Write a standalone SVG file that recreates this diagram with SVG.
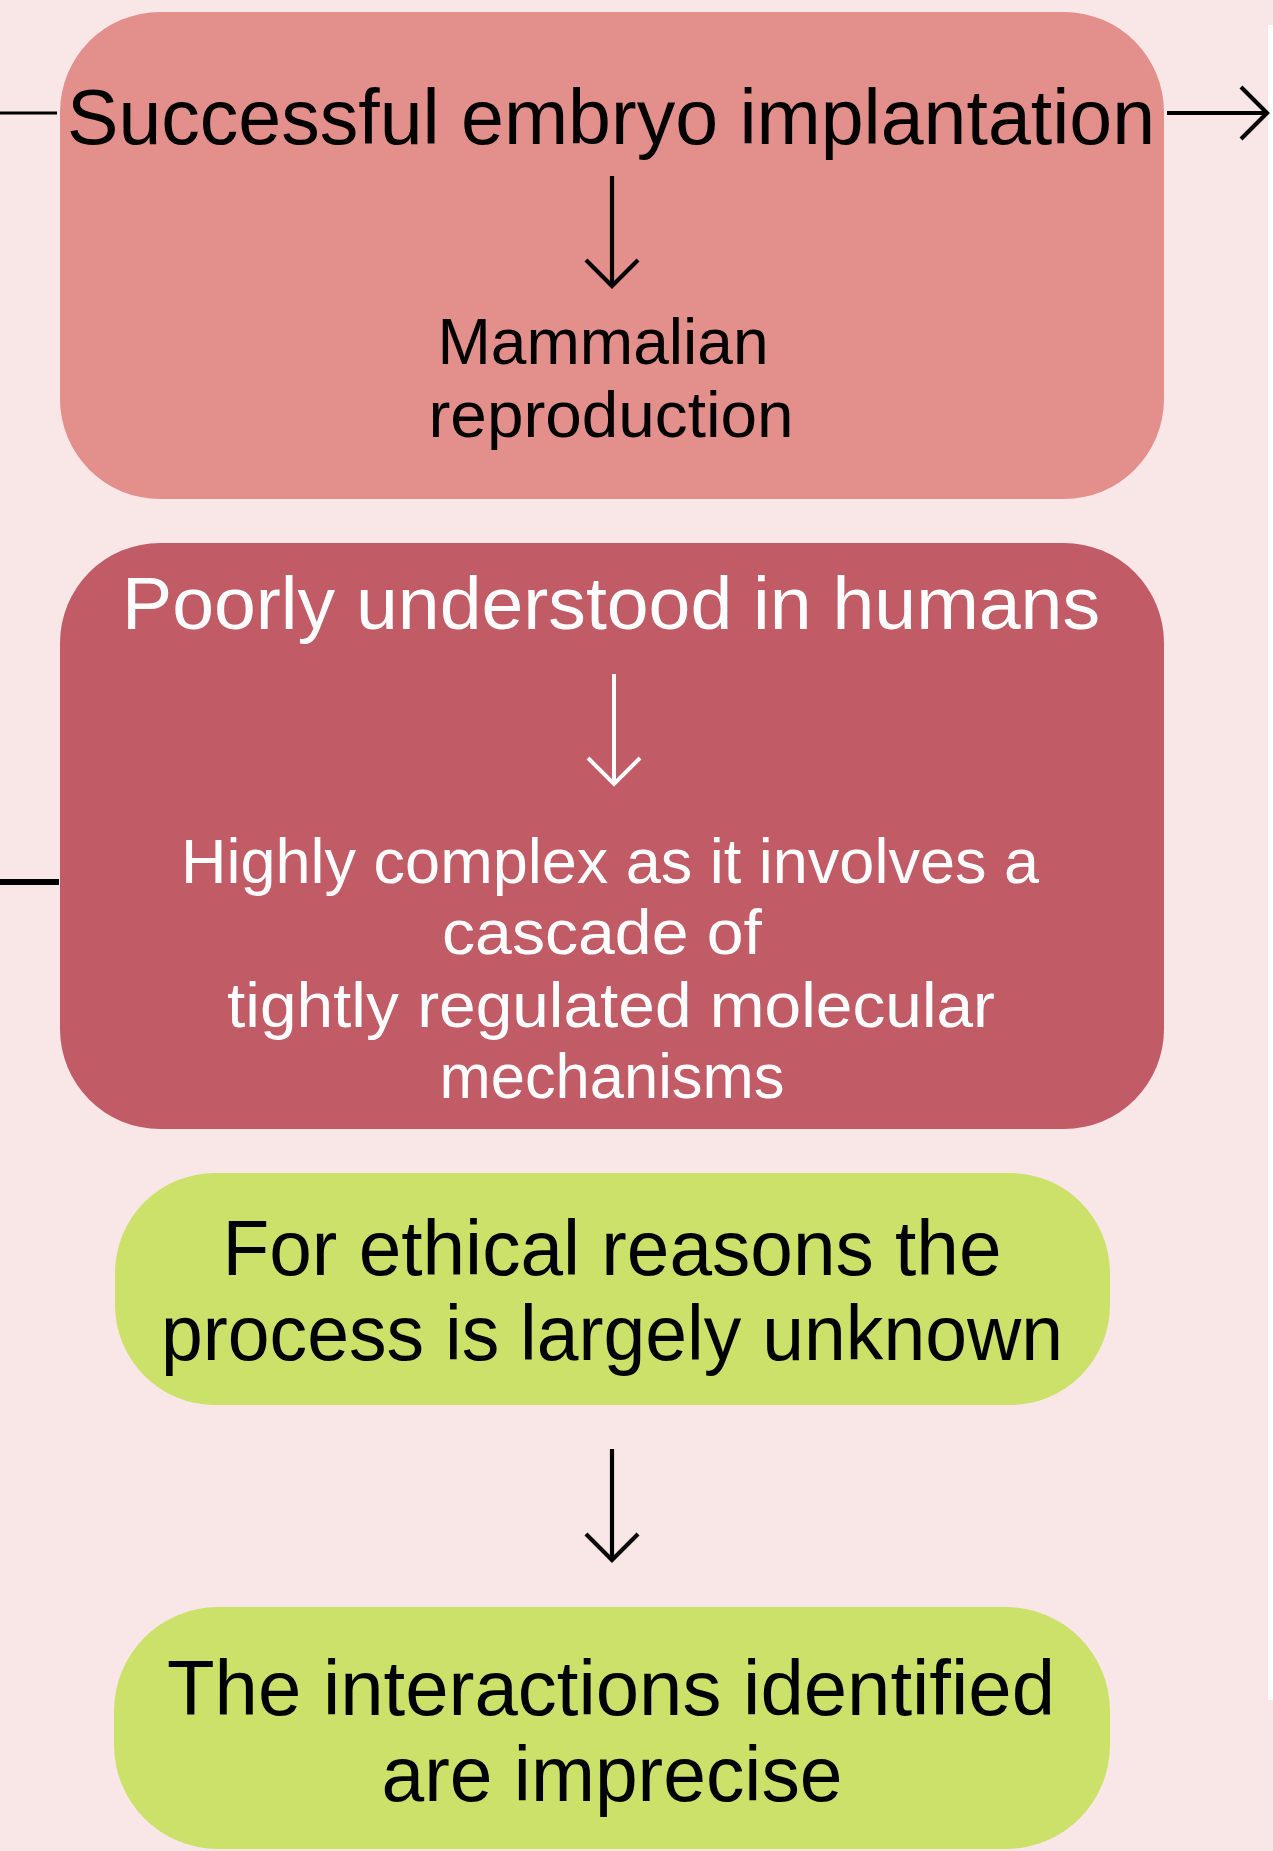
<svg xmlns="http://www.w3.org/2000/svg" width="1273" height="1851" viewBox="0 0 1273 1851">
  <style>
    .t { font-family: "Liberation Sans", Arial, sans-serif; text-anchor: middle; }
    .k { fill: #000000; }
    .w { fill: #FFFFFF; }
    .ln { fill: none; stroke-linecap: butt; }
  </style>
  <defs>
    <marker id="ak" markerUnits="userSpaceOnUse" markerWidth="60" markerHeight="60" viewBox="-30 -30 60 60" refX="0" refY="0" orient="auto" overflow="visible">
      <path d="M-26,-26 L0,0 L-26,26" fill="none" stroke="#000000" stroke-width="4.2"/>
    </marker>
    <marker id="aw" markerUnits="userSpaceOnUse" markerWidth="60" markerHeight="60" viewBox="-30 -30 60 60" refX="0" refY="0" orient="auto" overflow="visible">
      <path d="M-26,-26 L0,0 L-26,26" fill="none" stroke="#FFFFFF" stroke-width="4"/>
    </marker>
  </defs>
  <rect x="0" y="0" width="1273" height="1851" fill="#F9E7E7"/>
  <rect x="1268" y="25" width="5" height="1675" fill="#FFFFFF"/>

  <g id="node-implantation">
    <rect x="60" y="12" width="1104" height="487" rx="100" ry="100" fill="#E38F8C"/>
    <text class="t k" x="611" y="144" font-size="78" textLength="1088" lengthAdjust="spacingAndGlyphs">Successful embryo implantation</text>
    <text class="t k" x="603" y="364" font-size="64" textLength="331" lengthAdjust="spacingAndGlyphs">Mammalian</text>
    <text class="t k" x="611" y="437" font-size="64" textLength="365" lengthAdjust="spacingAndGlyphs">reproduction</text>
  </g>

  <g id="node-poorly">
    <rect x="60" y="543" width="1104" height="586" rx="100" ry="100" fill="#C15B66"/>
    <text class="t w" x="611" y="629" font-size="75" textLength="978" lengthAdjust="spacingAndGlyphs">Poorly understood in humans</text>
    <text class="t w" x="610" y="883" font-size="63" textLength="858" lengthAdjust="spacingAndGlyphs">Highly complex as it involves a</text>
    <text class="t w" x="602" y="954" font-size="63" textLength="320" lengthAdjust="spacingAndGlyphs">cascade of</text>
    <text class="t w" x="611" y="1027" font-size="63" textLength="768" lengthAdjust="spacingAndGlyphs">tightly regulated molecular</text>
    <text class="t w" x="612" y="1098" font-size="63" textLength="345" lengthAdjust="spacingAndGlyphs">mechanisms</text>
  </g>

  <g id="node-ethical">
    <rect x="115" y="1173" width="995" height="232" rx="100" ry="100" fill="#CBE16A"/>
    <text class="t k" x="612" y="1275" font-size="78" textLength="779" lengthAdjust="spacingAndGlyphs">For ethical reasons the</text>
    <text class="t k" x="612" y="1360" font-size="78" textLength="902" lengthAdjust="spacingAndGlyphs">process is largely unknown</text>
  </g>

  <g id="node-interactions">
    <rect x="114" y="1607" width="996" height="242" rx="104" ry="104" fill="#CBE16A"/>
    <text class="t k" x="611" y="1715" font-size="78" textLength="888" lengthAdjust="spacingAndGlyphs">The interactions identified</text>
    <text class="t k" x="612" y="1801" font-size="78" textLength="461" lengthAdjust="spacingAndGlyphs">are imprecise</text>
  </g>

  <g id="connectors">
    <line class="ln" x1="0" y1="113" x2="57" y2="113" stroke="#000000" stroke-width="3"/>
    <line class="ln" x1="1167" y1="113" x2="1267" y2="113" stroke="#000000" stroke-width="4.2" marker-end="url(#ak)"/>
    <line class="ln" x1="0" y1="882" x2="59" y2="882" stroke="#000000" stroke-width="6"/>
    <line class="ln" x1="612" y1="176" x2="612" y2="286" stroke="#000000" stroke-width="4.2" marker-end="url(#ak)"/>
    <line class="ln" x1="614" y1="674" x2="614" y2="784" stroke="#FFFFFF" stroke-width="4" marker-end="url(#aw)"/>
    <line class="ln" x1="612" y1="1449" x2="612" y2="1560" stroke="#000000" stroke-width="4.2" marker-end="url(#ak)"/>
  </g>
</svg>
